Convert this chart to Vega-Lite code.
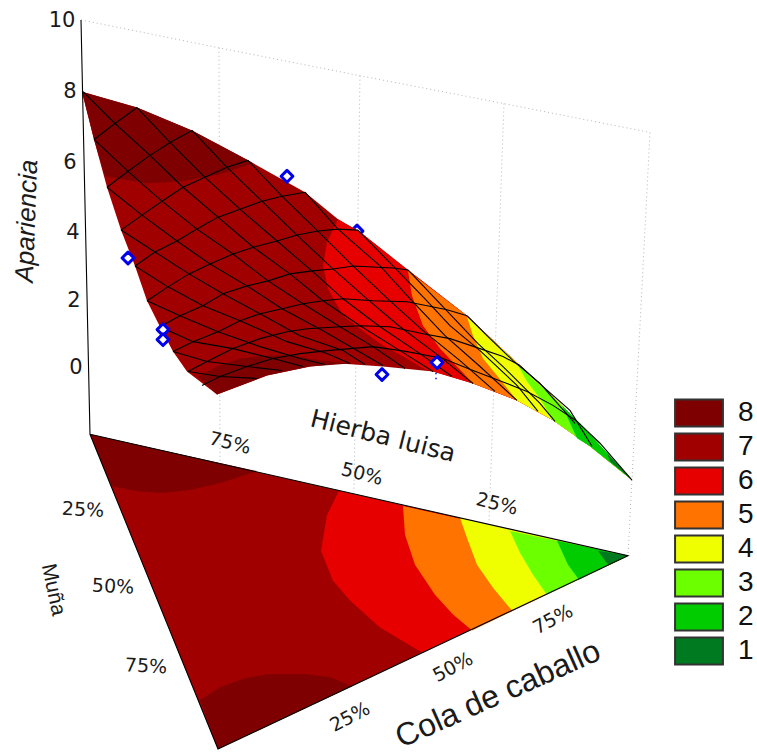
{"$schema":"https://vega.github.io/schema/vega-lite/v6.json","width":757,"height":754,"autosize":{"type":"fit","contains":"padding"},"padding":0,"background":"white","config":{"view":{"stroke":null},"text":{"font":"DejaVu Sans","color":"#1a1a1a"}},
"datasets":{
"polys":[
{"p":"f7","level":7,"h":90,"v":436},{"p":"f7","level":7,"h":628,"v":558},{"p":"f7","level":7,"h":218,"v":752},
{"p":"f8a","level":8,"h":112,"v":488},{"p":"f8a","level":8,"h":135,"v":493},{"p":"f8a","level":8,"h":163,"v":495},{"p":"f8a","level":8,"h":190,"v":492},{"p":"f8a","level":8,"h":220,"v":485},{"p":"f8a","level":8,"h":257,"v":473},{"p":"f8a","level":8,"h":90,"v":436},
{"p":"f8b","level":8,"h":200,"v":703},{"p":"f8b","level":8,"h":220,"v":690},{"p":"f8b","level":8,"h":245,"v":681},{"p":"f8b","level":8,"h":267,"v":677},{"p":"f8b","level":8,"h":307,"v":677},{"p":"f8b","level":8,"h":330,"v":680},{"p":"f8b","level":8,"h":352,"v":689},{"p":"f8b","level":8,"h":218,"v":752},
{"p":"f6","level":6,"h":339,"v":493},{"p":"f6","level":6,"h":327,"v":517},{"p":"f6","level":6,"h":321,"v":553},{"p":"f6","level":6,"h":333,"v":583},{"p":"f6","level":6,"h":350,"v":603},{"p":"f6","level":6,"h":380,"v":630},{"p":"f6","level":6,"h":422,"v":655},{"p":"f6","level":6,"h":628,"v":558},
{"p":"f5","level":5,"h":403,"v":508},{"p":"f5","level":5,"h":405,"v":537},{"p":"f5","level":5,"h":415,"v":567},{"p":"f5","level":5,"h":435,"v":597},{"p":"f5","level":5,"h":453,"v":617},{"p":"f5","level":5,"h":472,"v":633},{"p":"f5","level":5,"h":628,"v":558},
{"p":"f4","level":4,"h":460,"v":520},{"p":"f4","level":4,"h":468,"v":543},{"p":"f4","level":4,"h":477,"v":567},{"p":"f4","level":4,"h":493,"v":590},{"p":"f4","level":4,"h":512,"v":613},{"p":"f4","level":4,"h":628,"v":558},
{"p":"f3","level":3,"h":510,"v":533},{"p":"f3","level":3,"h":520,"v":555},{"p":"f3","level":3,"h":533,"v":577},{"p":"f3","level":3,"h":547,"v":597},{"p":"f3","level":3,"h":628,"v":558},
{"p":"f2","level":2,"h":557,"v":543},{"p":"f2","level":2,"h":568,"v":567},{"p":"f2","level":2,"h":579,"v":582},{"p":"f2","level":2,"h":628,"v":558},
{"p":"f1","level":1,"h":598,"v":553},{"p":"f1","level":1,"h":608,"v":567},{"p":"f1","level":1,"h":628,"v":558},
{"p":"s7","level":7,"h":82,"v":92},{"p":"s7","level":7,"h":137,"v":108},{"p":"s7","level":7,"h":192,"v":131},{"p":"s7","level":7,"h":248,"v":161},{"p":"s7","level":7,"h":305,"v":193},{"p":"s7","level":7,"h":338,"v":220},{"p":"s7","level":7,"h":360,"v":233},{"p":"s7","level":7,"h":408,"v":271},{"p":"s7","level":7,"h":467,"v":317},{"p":"s7","level":7,"h":520,"v":367},{"p":"s7","level":7,"h":560,"v":405},{"p":"s7","level":7,"h":632,"v":482},{"p":"s7","level":7,"h":590,"v":448},{"p":"s7","level":7,"h":553,"v":422},{"p":"s7","level":7,"h":517,"v":402},{"p":"s7","level":7,"h":473,"v":385},{"p":"s7","level":7,"h":433,"v":373},{"p":"s7","level":7,"h":383,"v":368},{"p":"s7","level":7,"h":340,"v":365},{"p":"s7","level":7,"h":310,"v":368},{"p":"s7","level":7,"h":267,"v":377},{"p":"s7","level":7,"h":217,"v":396},{"p":"s7","level":7,"h":187,"v":373},{"p":"s7","level":7,"h":173,"v":353},{"p":"s7","level":7,"h":160,"v":328},{"p":"s7","level":7,"h":147,"v":302},{"p":"s7","level":7,"h":135,"v":267},{"p":"s7","level":7,"h":121,"v":231},{"p":"s7","level":7,"h":107,"v":188},{"p":"s7","level":7,"h":94,"v":140},
{"p":"s8a","level":8,"h":105,"v":177},{"p":"s8a","level":8,"h":147,"v":184},{"p":"s8a","level":8,"h":183,"v":182},{"p":"s8a","level":8,"h":220,"v":175},{"p":"s8a","level":8,"h":253,"v":164},{"p":"s8a","level":8,"h":248,"v":161},{"p":"s8a","level":8,"h":192,"v":131},{"p":"s8a","level":8,"h":137,"v":108},{"p":"s8a","level":8,"h":82,"v":92},{"p":"s8a","level":8,"h":94,"v":140},
{"p":"s8b","level":8,"h":198,"v":378},{"p":"s8b","level":8,"h":217,"v":368},{"p":"s8b","level":8,"h":240,"v":360},{"p":"s8b","level":8,"h":267,"v":357},{"p":"s8b","level":8,"h":293,"v":357},{"p":"s8b","level":8,"h":320,"v":362},{"p":"s8b","level":8,"h":350,"v":365},{"p":"s8b","level":8,"h":310,"v":368},{"p":"s8b","level":8,"h":267,"v":377},{"p":"s8b","level":8,"h":217,"v":396},
{"p":"s6","level":6,"h":338,"v":220},{"p":"s6","level":6,"h":327,"v":243},{"p":"s6","level":6,"h":323,"v":267},{"p":"s6","level":6,"h":328,"v":290},{"p":"s6","level":6,"h":343,"v":317},{"p":"s6","level":6,"h":360,"v":330},{"p":"s6","level":6,"h":383,"v":347},{"p":"s6","level":6,"h":407,"v":360},{"p":"s6","level":6,"h":425,"v":371},{"p":"s6","level":6,"h":433,"v":373},{"p":"s6","level":6,"h":473,"v":385},{"p":"s6","level":6,"h":517,"v":402},{"p":"s6","level":6,"h":553,"v":422},{"p":"s6","level":6,"h":590,"v":448},{"p":"s6","level":6,"h":632,"v":482},{"p":"s6","level":6,"h":560,"v":405},{"p":"s6","level":6,"h":520,"v":367},{"p":"s6","level":6,"h":467,"v":317},{"p":"s6","level":6,"h":408,"v":271},{"p":"s6","level":6,"h":360,"v":233},
{"p":"s5","level":5,"h":408,"v":272},{"p":"s5","level":5,"h":412,"v":297},{"p":"s5","level":5,"h":423,"v":327},{"p":"s5","level":5,"h":440,"v":350},{"p":"s5","level":5,"h":473,"v":385},{"p":"s5","level":5,"h":517,"v":402},{"p":"s5","level":5,"h":553,"v":422},{"p":"s5","level":5,"h":590,"v":448},{"p":"s5","level":5,"h":632,"v":482},{"p":"s5","level":5,"h":560,"v":405},{"p":"s5","level":5,"h":520,"v":367},{"p":"s5","level":5,"h":467,"v":317},
{"p":"s4","level":4,"h":467,"v":318},{"p":"s4","level":4,"h":473,"v":337},{"p":"s4","level":4,"h":483,"v":360},{"p":"s4","level":4,"h":497,"v":377},{"p":"s4","level":4,"h":517,"v":402},{"p":"s4","level":4,"h":553,"v":422},{"p":"s4","level":4,"h":590,"v":448},{"p":"s4","level":4,"h":632,"v":482},{"p":"s4","level":4,"h":560,"v":405},{"p":"s4","level":4,"h":520,"v":367},
{"p":"s3","level":3,"h":518,"v":367},{"p":"s3","level":3,"h":527,"v":383},{"p":"s3","level":3,"h":540,"v":400},{"p":"s3","level":3,"h":553,"v":422},{"p":"s3","level":3,"h":590,"v":448},{"p":"s3","level":3,"h":632,"v":482},{"p":"s3","level":3,"h":560,"v":405},
{"p":"s2","level":2,"h":562,"v":407},{"p":"s2","level":2,"h":577,"v":440},{"p":"s2","level":2,"h":590,"v":448},{"p":"s2","level":2,"h":632,"v":482},{"p":"s2","level":2,"h":580,"v":425},
{"p":"s1","level":1,"h":607,"v":455},{"p":"s1","level":1,"h":610,"v":463},{"p":"s1","level":1,"h":632,"v":482}
],
"dotted":[
{"l":"back","h":81,"v":20},{"l":"back","h":219,"v":48},{"l":"back","h":360,"v":76},{"l":"back","h":504,"v":104},{"l":"back","h":650,"v":133},
{"l":"g1","h":219,"v":48},{"l":"g1","h":220,"v":466},
{"l":"g2","h":360,"v":76},{"l":"g2","h":354,"v":494},
{"l":"g3","h":504,"v":104},{"l":"g3","h":489,"v":525},
{"l":"g4","h":650,"v":133},{"l":"g4","h":628,"v":558}
],
"mesh":[
{"l":"B1","h":94,"v":140},{"l":"B1","h":115,"v":124},{"l":"B1","h":137,"v":108},
{"l":"B2","h":107,"v":188},{"l":"B2","h":128,"v":172},{"l":"B2","h":150,"v":156},{"l":"B2","h":170,"v":143},{"l":"B2","h":192,"v":131},
{"l":"B3","h":121,"v":231},{"l":"B3","h":142,"v":216},{"l":"B3","h":162,"v":202},{"l":"B3","h":183,"v":188},{"l":"B3","h":205,"v":178},{"l":"B3","h":227,"v":168},{"l":"B3","h":248,"v":161},
{"l":"B4","h":135,"v":267},{"l":"B4","h":155,"v":253},{"l":"B4","h":177,"v":242},{"l":"B4","h":197,"v":230},{"l":"B4","h":218,"v":218},{"l":"B4","h":240,"v":210},{"l":"B4","h":262,"v":202},{"l":"B4","h":282,"v":197},{"l":"B4","h":305,"v":193},
{"l":"B5","h":147,"v":302},{"l":"B5","h":168,"v":288},{"l":"B5","h":189,"v":275},{"l":"B5","h":210,"v":265},{"l":"B5","h":233,"v":255},{"l":"B5","h":254,"v":248},{"l":"B5","h":277,"v":242},{"l":"B5","h":297,"v":236},{"l":"B5","h":318,"v":232},{"l":"B5","h":338,"v":230},{"l":"B5","h":358,"v":231},
{"l":"B6","h":160,"v":328},{"l":"B6","h":180,"v":317},{"l":"B6","h":203,"v":307},{"l":"B6","h":223,"v":295},{"l":"B6","h":247,"v":287},{"l":"B6","h":268,"v":282},{"l":"B6","h":290,"v":275},{"l":"B6","h":312,"v":272},{"l":"B6","h":333,"v":270},{"l":"B6","h":353,"v":267},{"l":"B6","h":393,"v":269},{"l":"B6","h":408,"v":271},
{"l":"B7","h":173,"v":353},{"l":"B7","h":193,"v":343},{"l":"B7","h":218,"v":333},{"l":"B7","h":240,"v":322},{"l":"B7","h":260,"v":315},{"l":"B7","h":282,"v":310},{"l":"B7","h":303,"v":305},{"l":"B7","h":323,"v":302},{"l":"B7","h":343,"v":300},{"l":"B7","h":373,"v":302},{"l":"B7","h":407,"v":303},{"l":"B7","h":447,"v":311},{"l":"B7","h":467,"v":317},
{"l":"B8","h":188,"v":373},{"l":"B8","h":207,"v":363},{"l":"B8","h":233,"v":350},{"l":"B8","h":260,"v":340},{"l":"B8","h":287,"v":333},{"l":"B8","h":307,"v":330},{"l":"B8","h":340,"v":328},{"l":"B8","h":360,"v":327},{"l":"B8","h":390,"v":328},{"l":"B8","h":423,"v":335},{"l":"B8","h":450,"v":340},{"l":"B8","h":480,"v":350},{"l":"B8","h":503,"v":358},{"l":"B8","h":520,"v":367},
{"l":"B9","h":202,"v":387},{"l":"B9","h":220,"v":378},{"l":"B9","h":247,"v":368},{"l":"B9","h":273,"v":360},{"l":"B9","h":300,"v":355},{"l":"B9","h":327,"v":352},{"l":"B9","h":373,"v":348},{"l":"B9","h":407,"v":353},{"l":"B9","h":443,"v":360},{"l":"B9","h":473,"v":372},{"l":"B9","h":507,"v":385},{"l":"B9","h":527,"v":393},{"l":"B9","h":553,"v":407},{"l":"B9","h":577,"v":423},
{"l":"A0","h":83,"v":92},{"l":"A0","h":115,"v":124},{"l":"A0","h":150,"v":156},{"l":"A0","h":183,"v":188},{"l":"A0","h":218,"v":218},{"l":"A0","h":253,"v":248},{"l":"A0","h":290,"v":275},{"l":"A0","h":323,"v":302},{"l":"A0","h":360,"v":327},{"l":"A0","h":400,"v":352},{"l":"A0","h":433,"v":373},
{"l":"A1","h":137,"v":108},{"l":"A1","h":170,"v":143},{"l":"A1","h":205,"v":178},{"l":"A1","h":240,"v":210},{"l":"A1","h":277,"v":242},{"l":"A1","h":312,"v":272},{"l":"A1","h":343,"v":300},{"l":"A1","h":380,"v":328},{"l":"A1","h":420,"v":355},{"l":"A1","h":452,"v":378},
{"l":"A2","h":192,"v":131},{"l":"A2","h":227,"v":168},{"l":"A2","h":262,"v":202},{"l":"A2","h":297,"v":236},{"l":"A2","h":333,"v":270},{"l":"A2","h":367,"v":300},{"l":"A2","h":400,"v":328},{"l":"A2","h":440,"v":358},{"l":"A2","h":473,"v":385},
{"l":"A3","h":248,"v":161},{"l":"A3","h":282,"v":197},{"l":"A3","h":318,"v":232},{"l":"A3","h":353,"v":267},{"l":"A3","h":390,"v":302},{"l":"A3","h":423,"v":332},{"l":"A3","h":460,"v":362},{"l":"A3","h":495,"v":393},
{"l":"A4","h":305,"v":193},{"l":"A4","h":338,"v":230},{"l":"A4","h":380,"v":267},{"l":"A4","h":412,"v":302},{"l":"A4","h":445,"v":337},{"l":"A4","h":480,"v":368},{"l":"A4","h":517,"v":402},
{"l":"A5","h":358,"v":231},{"l":"A5","h":393,"v":267},{"l":"A5","h":425,"v":300},{"l":"A5","h":450,"v":327},{"l":"A5","h":480,"v":352},{"l":"A5","h":517,"v":387},{"l":"A5","h":538,"v":413},
{"l":"A6","h":408,"v":271},{"l":"A6","h":445,"v":310},{"l":"A6","h":478,"v":345},{"l":"A6","h":503,"v":368},{"l":"A6","h":540,"v":405},{"l":"A6","h":555,"v":423},
{"l":"A7","h":467,"v":317},{"l":"A7","h":490,"v":340},{"l":"A7","h":513,"v":362},{"l":"A7","h":540,"v":385},{"l":"A7","h":575,"v":425},
{"l":"A8","h":520,"v":367},{"l":"A8","h":545,"v":390},{"l":"A8","h":570,"v":412},{"l":"A8","h":592,"v":448},
{"l":"A9","h":577,"v":423},{"l":"A9","h":600,"v":445},{"l":"A9","h":632,"v":482},
{"l":"Am1","h":94,"v":140},{"l":"Am1","h":128,"v":172},{"l":"Am1","h":162,"v":202},{"l":"Am1","h":197,"v":230},{"l":"Am1","h":233,"v":255},{"l":"Am1","h":268,"v":282},{"l":"Am1","h":303,"v":305},{"l":"Am1","h":340,"v":328},{"l":"Am1","h":373,"v":348},{"l":"Am1","h":405,"v":370},
{"l":"Am2","h":107,"v":188},{"l":"Am2","h":142,"v":216},{"l":"Am2","h":177,"v":242},{"l":"Am2","h":210,"v":265},{"l":"Am2","h":247,"v":287},{"l":"Am2","h":282,"v":310},{"l":"Am2","h":323,"v":332},{"l":"Am2","h":383,"v":367},
{"l":"Am3","h":121,"v":231},{"l":"Am3","h":155,"v":253},{"l":"Am3","h":189,"v":275},{"l":"Am3","h":223,"v":295},{"l":"Am3","h":260,"v":315},{"l":"Am3","h":300,"v":337},{"l":"Am3","h":343,"v":352},{"l":"Am3","h":365,"v":366},
{"l":"Am4","h":135,"v":267},{"l":"Am4","h":168,"v":288},{"l":"Am4","h":203,"v":307},{"l":"Am4","h":240,"v":322},{"l":"Am4","h":287,"v":343},{"l":"Am4","h":327,"v":355},{"l":"Am4","h":350,"v":365},
{"l":"Am5","h":147,"v":302},{"l":"Am5","h":180,"v":317},{"l":"Am5","h":218,"v":333},{"l":"Am5","h":260,"v":348},{"l":"Am5","h":300,"v":360},{"l":"Am5","h":325,"v":366},
{"l":"Am6","h":160,"v":328},{"l":"Am6","h":193,"v":343},{"l":"Am6","h":233,"v":350},{"l":"Am6","h":273,"v":360},{"l":"Am6","h":303,"v":368},
{"l":"Am7","h":173,"v":353},{"l":"Am7","h":207,"v":363},{"l":"Am7","h":247,"v":368},{"l":"Am7","h":282,"v":372},
{"l":"Am8","h":188,"v":373},{"l":"Am8","h":220,"v":378},{"l":"Am8","h":258,"v":380},
{"l":"ax","h":81,"v":20},{"l":"ax","h":90,"v":436},{"l":"ax","h":218,"v":752},{"l":"ax","h":628,"v":558},{"l":"ax","h":90,"v":436}
],
"hiddenPts":[{"h":357,"v":232}],
"pts":[{"h":128,"v":259},{"h":163,"v":331},{"h":163,"v":341},{"h":287,"v":177},{"h":382,"v":376},{"h":437,"v":364}],
"specks":[{"h":436,"v":375},{"h":436,"v":380}]
},
"encoding":{
"x":{"field":"h","type":"quantitative","scale":{"domain":[0,757],"nice":false,"zero":false},"axis":null},
"y":{"field":"v","type":"quantitative","scale":{"domain":[754,0],"nice":false,"zero":false},"axis":null}
},
"layer":[
{"data":{"name":"dotted"},"transform":[{"window":[{"op":"row_number","as":"seq"}]}],"mark":{"type":"line","color":"#b5b5b5","strokeWidth":1,"strokeDash":[1,3]},"encoding":{"detail":{"field":"l"},"order":{"field":"seq","type":"quantitative"}}},
{"data":{"name":"hiddenPts"},"mark":{"type":"point","shape":"diamond","size":140,"filled":true,"fill":"white","stroke":"#0000ee","strokeWidth":3,"strokeJoin":"round","opacity":1}},
{"data":{"name":"polys"},"transform":[{"window":[{"op":"row_number","as":"seq"}]}],"mark":{"type":"line","filled":true,"strokeWidth":0,"interpolate":"linear"},"encoding":{"detail":{"field":"p"},"order":{"field":"seq","type":"quantitative"},
"color":{"field":"level","type":"ordinal","scale":{"domain":[8,7,6,5,4,3,2,1],"range":["#7f0000","#a00000","#e60000","#ff7300","#f0ff00","#6bff00","#00cc00","#007a20"]},"legend":{"title":null,"orient":"none","legendX":684,"legendY":398,"symbolType":"M-1.71,-0.96H1.71V0.96H-1.71Z","symbolSize":784,"symbolStrokeColor":"#333333","symbolStrokeWidth":2,"labelFontSize":28,"labelFont":"Liberation Sans","labelColor":"#111111","labelOffset":24,"rowPadding":-2}}}},
{"data":{"name":"mesh"},"transform":[{"window":[{"op":"row_number","as":"seq"}]}],"mark":{"type":"line","color":"#000000","strokeWidth":1.1},"encoding":{"detail":{"field":"l"},"order":{"field":"seq","type":"quantitative"}}},
{"data":{"name":"specks"},"mark":{"type":"point","shape":"square","size":2,"filled":true,"color":"#0000ee","opacity":1}},
{"data":{"name":"pts"},"mark":{"type":"point","shape":"diamond","size":140,"filled":true,"fill":"white","stroke":"#0000ee","strokeWidth":3,"strokeJoin":"round","opacity":1}},
{"data":{"values":[{"t":"10","h":62,"v":21},{"t":"8","h":70,"v":92},{"t":"6","h":70,"v":164},{"t":"4","h":73,"v":234},{"t":"2","h":74,"v":302},{"t":"0","h":76,"v":369}]},"mark":{"type":"text","fontSize":21,"align":"center","baseline":"middle"},"encoding":{"text":{"field":"t"}}},
{"data":{"values":[{"t":"Apariencia","h":27,"v":222}]},"mark":{"type":"text","font":"Liberation Sans","fontSize":26,"fontStyle":"italic","angle":272,"align":"center","baseline":"middle"},"encoding":{"text":{"field":"t"}}},
{"data":{"values":[{"t":"Hierba luisa","h":383,"v":438}]},"mark":{"type":"text","fontSize":25,"angle":14,"align":"center","baseline":"middle"},"encoding":{"text":{"field":"t"}}},
{"data":{"values":[{"t":"75%","h":230,"v":445},{"t":"50%","h":362,"v":476},{"t":"25%","h":497,"v":506}]},"mark":{"type":"text","fontSize":19,"angle":14,"align":"center","baseline":"middle"},"encoding":{"text":{"field":"t"}}},
{"data":{"values":[{"t":"Muña","h":53,"v":592}]},"mark":{"type":"text","font":"Liberation Sans","fontSize":21,"angle":78,"align":"center","baseline":"middle"},"encoding":{"text":{"field":"t"}}},
{"data":{"values":[{"t":"25%","h":83,"v":512},{"t":"50%","h":113,"v":589},{"t":"75%","h":146,"v":669}]},"mark":{"type":"text","fontSize":19,"angle":3,"align":"center","baseline":"middle"},"encoding":{"text":{"field":"t"}}},
{"data":{"values":[{"t":"25%","h":350,"v":720},{"t":"50%","h":453,"v":670},{"t":"75%","h":553,"v":622}]},"mark":{"type":"text","fontSize":19,"angle":332,"align":"center","baseline":"middle"},"encoding":{"text":{"field":"t"}}},
{"data":{"values":[{"t":"Cola de caballo","h":498,"v":697}]},"mark":{"type":"text","font":"Liberation Sans","fontSize":32,"angle":336,"align":"center","baseline":"middle"},"encoding":{"text":{"field":"t"}}}
]}
